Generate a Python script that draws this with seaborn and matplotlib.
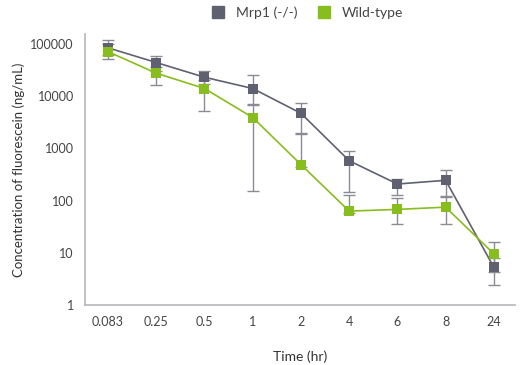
import numpy as np
import pandas as pd
import matplotlib
matplotlib.use("Agg")
import matplotlib.pyplot as plt
import seaborn as sns
from matplotlib.lines import Line2D

sns.set_theme(style="white")
plt.rcParams["font.family"] = ["Lato", "DejaVu Sans"]

time_labels = ["0.083", "0.25", "0.5", "1", "2", "4", "6", "8", "24"]

mrp1_mean = [84000, 44000, 23000, 14000, 4700, 580, 208, 245, 5.3]
mrp1_low = [60000, 30000, 17000, 6700, 2000, 148, 130, 120, 2.45]
mrp1_high = [118000, 59000, 30000, 25000, 7300, 890, 263, 380, 8]

wt_mean = [71000, 27500, 14000, 3900, 490, 63, 68, 75, 9.6]
wt_low = [51000, 16000, 5200, 150, 450, 58, 35, 35, 4.4]
wt_high = [100000, 36000, 20000, 7200, 1900, 130, 110, 125, 16]

gray = "#5f6170"
green = "#87bd1c"
err_color = "#8a8c94"

df = pd.DataFrame({
    "pos": list(range(len(time_labels))) * 2,
    "conc": mrp1_mean + wt_mean,
    "strain": ["Mrp1 (-/-)"] * len(time_labels) + ["Wild-type"] * len(time_labels),
})

fig = plt.figure(figsize=(5.24, 3.65), dpi=100)
ax = fig.add_axes([0.162, 0.164, 0.821, 0.743])

x = np.arange(len(time_labels))
for mean, low, high in [(mrp1_mean, mrp1_low, mrp1_high), (wt_mean, wt_low, wt_high)]:
    mean = np.array(mean)
    yerr = np.vstack([mean - np.array(low), np.array(high) - mean])
    ax.errorbar(x, mean, yerr=yerr, fmt="none", ecolor=err_color,
                elinewidth=1.0, capsize=4, capthick=1.0, zorder=1)

sns.lineplot(data=df, x="pos", y="conc", hue="strain",
             palette={"Mrp1 (-/-)": gray, "Wild-type": green},
             marker="s", markersize=7, markeredgewidth=0, linewidth=1.2,
             legend=False, ax=ax, zorder=3)

ax.set_yscale("log")
ax.set_ylim(1, 1.55e5)
ax.set_xlim(-0.48, 8.44)
ax.set_xticks(x)
ax.set_xticklabels(time_labels)
ax.set_yticks([1, 10, 100, 1000, 10000, 100000])
ax.set_yticklabels(["1", "10", "100", "1000", "10000", "100000"])
ax.minorticks_off()
ax.tick_params(axis="both", length=0, labelsize=9, colors="#444444", pad=8)

for side in ["top", "right"]:
    ax.spines[side].set_visible(False)
for side in ["left", "bottom"]:
    ax.spines[side].set_color("#b5b7bc")
    ax.spines[side].set_linewidth(1.2)

ax.set_xlabel("Time (hr)", fontsize=10, color="#333333", labelpad=16)
ax.set_ylabel("Concentration of fluorescein (ng/mL)", fontsize=9.5, color="#333333")
ax.yaxis.set_label_coords(-0.14, 0.5)

handles = [
    Line2D([], [], marker="s", linestyle="none", markersize=9, color=gray),
    Line2D([], [], marker="s", linestyle="none", markersize=9, color=green),
]
fig.legend(handles, ["Mrp1 (-/-)", "Wild-type"], loc="center", bbox_to_anchor=(0.58, 0.965),
           ncol=2, frameon=False, fontsize=10, handletextpad=0.3, columnspacing=0.9,
           labelcolor="#444444")

fig.savefig("out.png", dpi=100)
